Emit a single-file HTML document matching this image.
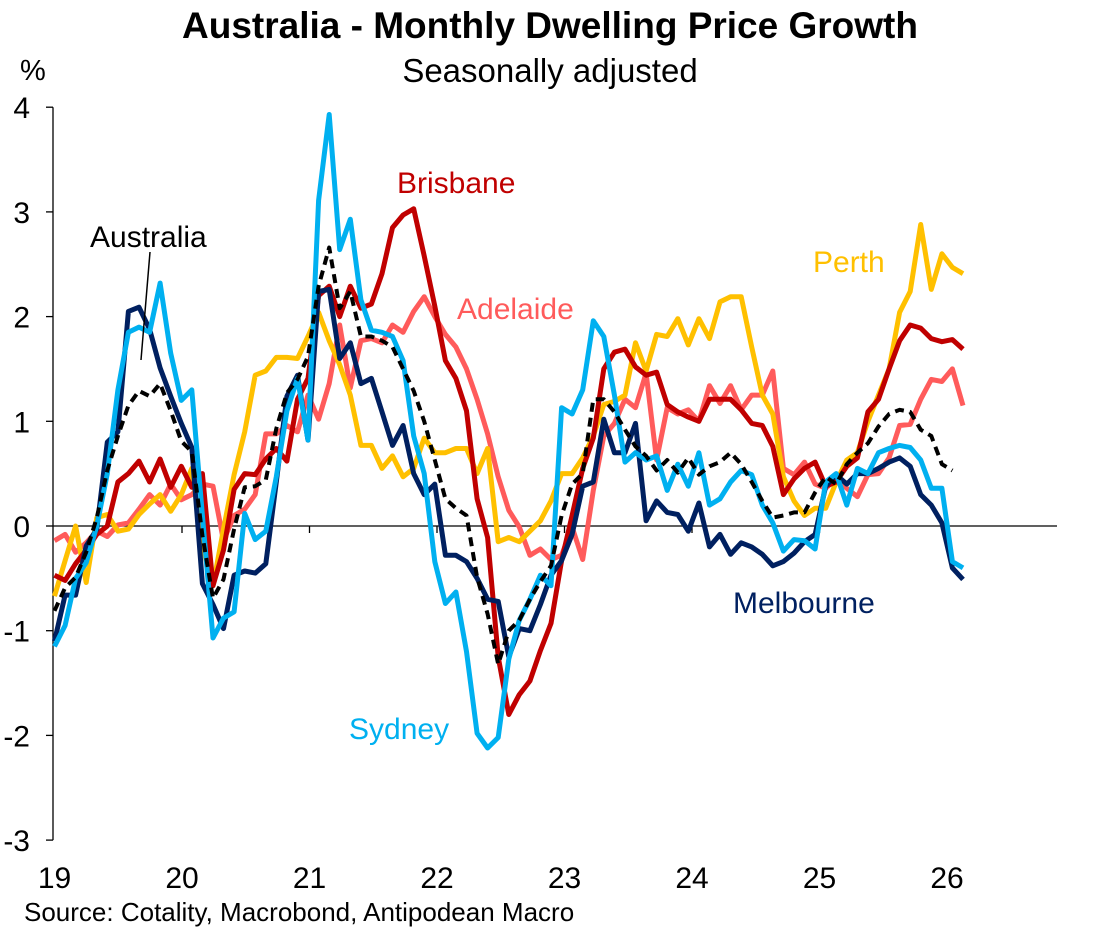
<!DOCTYPE html>
<html><head><meta charset="utf-8"><style>
html,body{margin:0;padding:0;background:#fff;}
svg{display:block;font-family:"Liberation Sans",Arial,sans-serif;}
</style></head><body>
<svg id="chart" width="1097" height="927" viewBox="0 0 1097 927">
<text x="550" y="38" text-anchor="middle" font-size="37" font-weight="bold">Australia - Monthly Dwelling Price Growth</text>
<text x="550" y="82" text-anchor="middle" font-size="33">Seasonally adjusted</text>
<text x="20" y="80" font-size="29">%</text>
<g id="axes"></g>
<g id="series"></g>
<line x1="150" y1="252" x2="141" y2="360" stroke="#000" stroke-width="1.5"/>
<text x="90" y="247" font-size="30" fill="#000">Australia</text>
<text x="397" y="193" font-size="30" fill="#C00000">Brisbane</text>
<text x="457" y="319" font-size="30" fill="#FF5B5B">Adelaide</text>
<text x="813" y="272" font-size="30" fill="#FFC000">Perth</text>
<text x="733" y="613" font-size="30" fill="#002060">Melbourne</text>
<text x="349" y="739" font-size="30" fill="#00B0F0">Sydney</text>
<text x="24" y="921" font-size="26">Source: Cotality, Macrobond, Antipodean Macro</text>
</svg>
<script>
const yTicks = [4,3,2,1,0,-1,-2,-3];
const yearLabels = ["19","20","21","22","23","24","25","26"];
const sydney = [-1.15,-0.95,-0.5,-0.35,0.0,0.5,1.3,1.85,1.9,1.85,2.32,1.65,1.2,1.3,0.1,-1.07,-0.88,-0.82,0.12,-0.13,-0.05,0.47,1.1,1.41,0.82,3.11,3.93,2.64,2.93,2.16,1.87,1.85,1.81,1.58,0.86,0.5,-0.34,-0.74,-0.63,-1.2,-1.98,-2.12,-2.02,-1.27,-0.9,-0.7,-0.47,-0.57,1.13,1.07,1.3,1.96,1.81,1.25,0.61,0.7,0.63,0.67,0.34,0.59,0.38,0.7,0.2,0.26,0.42,0.53,0.49,0.2,0.03,-0.24,-0.13,-0.14,-0.22,0.42,0.5,0.2,0.55,0.5,0.7,0.74,0.77,0.75,0.63,0.36,0.36,-0.34,-0.4];
const melbourne = [-1.1,-0.66,-0.66,-0.19,-0.03,0.8,0.9,2.05,2.09,1.88,1.51,1.24,0.98,0.75,-0.55,-0.75,-0.98,-0.47,-0.43,-0.45,-0.36,0.42,1.24,1.44,0.82,2.24,2.26,1.6,1.75,1.36,1.41,1.09,0.77,0.96,0.5,0.3,0.4,-0.28,-0.28,-0.34,-0.5,-0.7,-0.72,-1.25,-0.98,-1.0,-0.75,-0.47,-0.33,-0.08,0.38,0.42,1.02,0.7,0.7,0.98,0.05,0.24,0.13,0.11,-0.05,0.22,-0.2,-0.08,-0.27,-0.16,-0.2,-0.27,-0.38,-0.34,-0.26,-0.15,-0.08,0.38,0.49,0.4,0.5,0.5,0.55,0.61,0.65,0.57,0.3,0.2,0.03,-0.4,-0.51];
const brisbane = [-0.47,-0.52,-0.36,-0.23,-0.08,0.0,0.42,0.5,0.62,0.42,0.64,0.37,0.57,0.37,0.5,-0.57,-0.23,0.35,0.5,0.49,0.64,0.74,0.62,1.21,1.41,2.2,2.29,2.0,2.29,2.08,2.12,2.41,2.85,2.97,3.03,2.58,2.1,1.58,1.41,1.1,0.26,-0.11,-1.25,-1.8,-1.61,-1.48,-1.19,-0.93,-0.33,0.1,0.55,0.84,1.5,1.66,1.69,1.52,1.44,1.47,1.16,1.09,1.04,1.0,1.21,1.21,1.21,1.11,0.98,0.96,0.76,0.3,0.45,0.55,0.61,0.38,0.42,0.57,0.65,1.09,1.21,1.5,1.77,1.92,1.89,1.79,1.76,1.78,1.69];
const adelaide = [-0.14,-0.08,-0.25,-0.16,-0.05,-0.1,0.01,0.03,0.16,0.3,0.2,0.4,0.25,0.3,0.4,0.38,-0.14,0.1,0.16,0.3,0.88,0.88,0.96,0.9,1.25,1.02,1.36,1.92,1.32,1.77,1.79,1.75,1.92,1.85,2.05,2.19,2.0,1.83,1.71,1.5,1.21,0.88,0.47,0.15,-0.01,-0.28,-0.22,-0.32,-0.28,-0.01,-0.32,0.34,0.86,0.98,1.21,1.13,1.46,0.63,1.13,1.07,1.11,1.0,1.34,1.17,1.34,1.11,1.25,1.25,1.48,0.55,0.49,0.61,0.4,0.36,0.45,0.36,0.28,0.49,0.5,0.65,0.96,0.97,1.21,1.4,1.38,1.5,1.15];
const perth = [-0.67,-0.33,0,-0.54,0.08,0.11,-0.05,-0.03,0.11,0.21,0.3,0.14,0.3,0.55,-0.19,-0.57,-0.03,0.49,0.9,1.44,1.48,1.61,1.61,1.6,1.81,2.04,1.77,1.54,1.25,0.77,0.77,0.55,0.67,0.47,0.55,0.84,0.7,0.7,0.74,0.74,0.5,0.74,-0.15,-0.11,-0.15,-0.05,0.05,0.24,0.5,0.5,0.65,0.86,1.16,1.19,1.25,1.75,1.48,1.83,1.81,1.98,1.73,1.98,1.79,2.14,2.19,2.19,1.71,1.25,1.07,0.47,0.24,0.1,0.17,0.17,0.42,0.63,0.7,1.0,1.25,1.5,2.04,2.24,2.88,2.26,2.6,2.47,2.41];
const australia = [-0.81,-0.59,-0.49,-0.25,0.08,0.53,0.86,1.15,1.29,1.24,1.36,1.1,0.81,0.71,-0.09,-0.69,-0.51,-0.03,0.37,0.38,0.44,0.93,1.27,1.4,1.62,2.29,2.66,2.08,2.24,1.81,1.81,1.77,1.71,1.5,1.29,1.0,0.63,0.26,0.17,0.1,-0.49,-0.84,-1.32,-1.0,-0.9,-0.7,-0.53,-0.38,0.1,0.4,0.5,1.21,1.21,1.09,0.92,0.76,0.67,0.53,0.63,0.51,0.65,0.49,0.57,0.61,0.7,0.59,0.42,0.24,0.08,0.1,0.13,0.13,0.32,0.47,0.4,0.59,0.7,0.79,0.95,1.07,1.11,1.09,0.92,0.86,0.59,0.53];

const NS='http://www.w3.org/2000/svg';
const X0=54.5, DX=(963-54.5)/86, Y0=526, DY=104.7;
const xPos=i=>X0+i*DX;
const yPos=v=>Y0-v*DY;
const yearX=k=>54.5+k*127.5;
const axes=document.getElementById('axes');
function mk(tag,attrs,parent){const e=document.createElementNS(NS,tag);for(const k in attrs)e.setAttribute(k,attrs[k]);parent.appendChild(e);return e;}
const vaxis=mk('line',{x1:53,y1:yPos(4),x2:53,y2:yPos(-3),stroke:'#000','stroke-width':1.3},axes);


const zl=mk('line',{x1:53,y1:Y0,x2:1057,y2:Y0,stroke:'#000','stroke-width':1.3},axes);


yTicks.forEach(v=>{
  const t=mk('line',{x1:46,y1:yPos(v),x2:53,y2:yPos(v),stroke:'#000','stroke-width':1.3},axes);
  
  
  const l=mk('text',{x:30,y:yPos(v)+11,'text-anchor':'end','font-size':30},axes);
  l.textContent=String(v);
  
  
});
yearLabels.forEach((s,k)=>{
  const x=yearX(k);
  if(k>0){const t=mk('line',{x1:x,y1:Y0,x2:x,y2:Y0+7,stroke:'#000','stroke-width':1.3},axes);
  
  }
  const l=mk('text',{x:x,y:888,'text-anchor':'middle','font-size':30},axes);
  l.textContent=s;
  
  
});
const sg=document.getElementById('series');
function draw(arr,color,w,name,dash){
  const d=arr.map((v,i)=>(i?'L':'M')+xPos(i).toFixed(1)+' '+yPos(v).toFixed(1)).join(' ');
  const p=mk('path',{d:d,fill:'none',stroke:color,'stroke-width':w,'stroke-linejoin':'round'},sg);
  if(dash)p.setAttribute('stroke-dasharray',dash);
  
  
}
draw(adelaide,'#FF5B5B',5,'adelaide-line');
draw(perth,'#FFC000',5,'perth-line');
draw(brisbane,'#C00000',5,'brisbane-line');
draw(melbourne,'#002060',5,'melbourne-line');
draw(sydney,'#00B0F0',5,'sydney-line');
draw(australia,'#000',4,'australia-line','9 6');
</script>
</body></html>
